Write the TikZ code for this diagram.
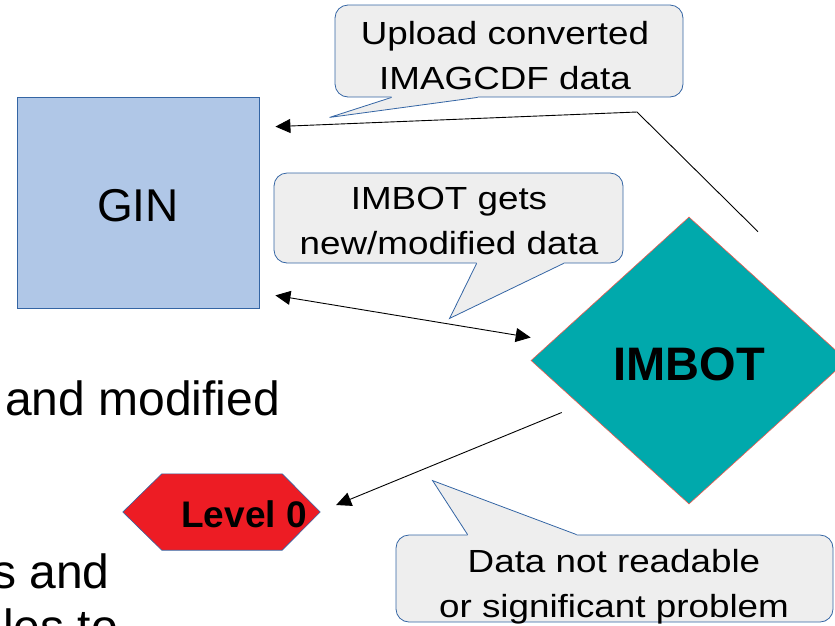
\documentclass[tikz,border=0pt]{standalone}
\usepackage{fontspec}
\setmainfont{Liberation Sans}
\newfontfamily\callfont[FakeStretch=1.15]{Liberation Sans}
\usetikzlibrary{shapes.geometric,arrows.meta}
\definecolor{ginfill}{RGB}{176,199,231}
\definecolor{edgeblue}{RGB}{52,101,164}
\definecolor{callfill}{RGB}{238,238,238}
\definecolor{tealfill}{RGB}{0,169,172}
\definecolor{diaedge}{RGB}{240,90,80}
\definecolor{hexred}{RGB}{237,28,36}
\begin{document}
\begin{tikzpicture}[x=1pt,y=-1pt,
  conn/.style={draw=black, line width=0.9pt, -{Triangle[length=15pt,width=14pt]}},
  callbox/.style={draw=edgeblue, fill=callfill, line width=0.8pt, rounded corners=13pt, inner sep=0},
  callline/.style={draw=edgeblue, line width=0.8pt, line join=miter},
  calltext/.style={font=\callfont\fontsize{32}{45}\selectfont, align=center, anchor=base, inner sep=0},
  bgtext/.style={font=\fontsize{48}{55}\selectfont, anchor=base west, inner sep=0}
]
\useasboundingbox (0,0) rectangle (835,625);
\clip (0,0) rectangle (835,625);

% background slide text
\node[bgtext] (bg1) at (5,415) {and modified};
\node[bgtext] (bg2) at (-8,588) {s and};
\node[bgtext] (bg3) at (-21,643) {files to};

% GIN
\node[draw=edgeblue, fill=ginfill, line width=0.8pt, minimum width=242, minimum height=211,
      inner sep=0, font=\fontsize{46}{46}\selectfont, text height=39] (gin) at (138,202.5) {GIN};

% IMBOT diamond
\node[diamond, draw=diaedge, fill=tealfill, line width=0.6pt, minimum width=316, minimum height=287,
      inner sep=0, font=\fontsize{47}{47}\selectfont\bfseries, text height=41] (imbot) at (689,360.5) {IMBOT};

% Level 0 hexagon
\node[minimum width=197, minimum height=76, inner sep=0] (lvl) at (221.5,512) {};
\draw[draw=edgeblue, fill=hexred, line width=0.6pt]
  (lvl.west) -- ([xshift=39]lvl.north west) -- ([xshift=-38]lvl.north east) -- (lvl.east)
  -- ([xshift=-38]lvl.south east) -- ([xshift=39]lvl.south west) -- cycle;
\node[font=\fontsize{37}{37}\selectfont\bfseries, anchor=base, inner sep=0] (lvltxt) at (244,527) {Level 0};

% Callout 1
\node[callbox, minimum width=348, minimum height=92] (c1) at (509,51) {};
\fill[callfill] ([xshift=57]c1.south west) -- ([shift={(-5,20)}]c1.south west) -- ([xshift=143]c1.south west)
  -- ([shift={(143,-2)}]c1.south west) -- ([shift={(57,-2)}]c1.south west) -- cycle;
\draw[callline] ([xshift=57]c1.south west) -- ([shift={(-5,20)}]c1.south west) -- ([xshift=143]c1.south west);
\node[calltext] (t1) at (505,89) {Upload converted\\IMAGCDF data};

% Callout 2
\node[callbox, minimum width=349, minimum height=90] (c2) at (448.5,218) {};
\fill[callfill] ([xshift=203]c2.south west) -- ([shift={(176,55)}]c2.south west) -- ([xshift=290]c2.south west)
  -- ([shift={(290,-2)}]c2.south west) -- ([shift={(203,-2)}]c2.south west) -- cycle;
\draw[callline] ([xshift=203]c2.south west) -- ([shift={(176,55)}]c2.south west) -- ([xshift=290]c2.south west);
\node[calltext] (t2) at (449,254) {IMBOT gets\\new/modified data};

% Callout 3
\node[callbox, minimum width=437, minimum height=87] (c3) at (614.5,578.5) {};
\fill[callfill] ([xshift=72]c3.north west) -- ([shift={(37,-54)}]c3.north west) -- ([xshift=181]c3.north west)
  -- ([shift={(181,2)}]c3.north west) -- ([shift={(72,2)}]c3.north west) -- cycle;
\draw[callline] ([xshift=72]c3.north west) -- ([shift={(37,-54)}]c3.north west) -- ([xshift=181]c3.north west);
\node[calltext] (t3) at (614,617) {Data not readable\\or significant problem};

% connectors
\coordinate (bend1) at (637,112);
\draw[conn] ([shift={(69,15)}]imbot.north) -- (bend1) -- ([shift={(16,30)}]gin.north east);
\draw[conn, {Triangle[length=15pt,width=14pt]}-{Triangle[length=15pt,width=14pt]}]
  ([shift={(16,-13)}]gin.south east) -- ([shift={(0,-23)}]imbot.west);
\draw[conn] ([shift={(31,52)}]imbot.west) -- ([shift={(16,-7)}]lvl.east);
\end{tikzpicture}
\end{document}
